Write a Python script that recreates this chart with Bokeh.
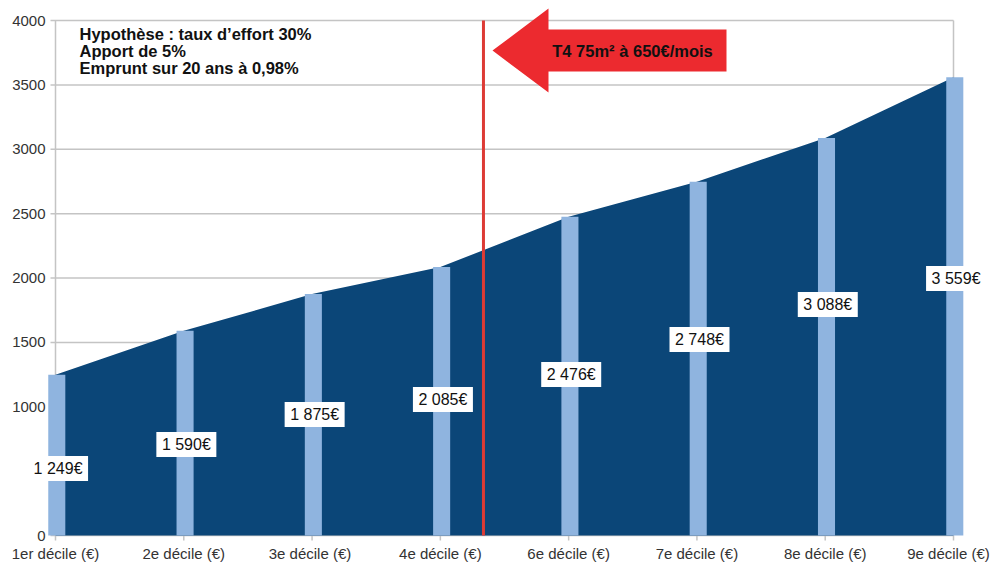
import numpy as np
from bokeh.plotting import figure
from bokeh.models import Range1d
from bokeh.embed import file_html
from bokeh.resources import INLINE
from bokeh.core.properties import value

# --- data -------------------------------------------------------------------
categories = ["1er décile (€)", "2e décile (€)", "3e décile  (€)", "4e décile (€)",
              "6e décile (€)", "7e décile (€)", "8e décile (€)", "9e décile (€)"]
budget = [1249, 1590, 1875, 2085, 2476, 2748, 3088, 3559]
label_heights = [520, 707, 940, 1056, 1250, 1522, 1794, 1996]
y_ticks = [0, 500, 1000, 1500, 2000, 2500, 3000, 3500, 4000]
y_tick_labels = ["0", "", "1000", "1500", "2000", "2500", "3000", "3500", "4000"]
notes = ["Hypothèse : taux d’effort 30%", "Apport de 5%", "Emprunt sur 20 ans à 0,98%"]
rent_label = "T4 75m² à 650€/mois"
rent_position = 3.336   # between 4e and 6e décile

value_labels = [f"{v:,}".replace(",", " ") + "€" for v in budget]
idx = np.arange(len(categories))

# --- layout -------------------------------------------------------------------
W, H = 991, 562
FRAME_L, FRAME_R, FRAME_T, FRAME_B = 0, 991, 0, 562
X_FIRST_PX, X_LAST_PX = 55, 953
Y_ZERO_PX, Y_TOP_PX = 535, 20
Y_MAX = 4000

px_per_cat = (X_LAST_PX - X_FIRST_PX) / (len(categories) - 1)
px_per_unit = (Y_ZERO_PX - Y_TOP_PX) / Y_MAX
x_start = (FRAME_L - X_FIRST_PX) / px_per_cat
x_end = (len(categories) - 1) + (FRAME_R - X_LAST_PX) / px_per_cat
y_start = (Y_ZERO_PX - FRAME_B) / px_per_unit
y_end = (Y_ZERO_PX - FRAME_T) / px_per_unit


def dx(px):
    return (px - X_FIRST_PX) / px_per_cat


def dy(py):
    return (Y_ZERO_PX - py) / px_per_unit


DARK = "#0b4678"
LIGHT = "#8fb4df"
GRID = "#c4c4c4"
LINE_RED = "#dd3b35"
ARROW_RED = "#ec2a2f"
FONT = "Liberation Sans"
AXIS_TEXT = "#333333"

p = figure(width=W, height=H, x_range=Range1d(x_start, x_end),
           y_range=Range1d(y_start, y_end),
           output_backend="svg", toolbar_location=None,
           min_border=0)
p.outline_line_color = None
p.grid.visible = False
p.axis.visible = False
p.background_fill_color = "white"
p.border_fill_color = "white"

last = len(categories) - 1
n = len(y_ticks)
m = len(categories)

# horizontal grid lines (with a short outward tick on the left)
p.segment(x0=[dx(50)] * n, y0=y_ticks, x1=[last] * n, y1=y_ticks,
          line_color=GRID, line_width=1.5)
# left axis line and right border of the plot box
p.segment(x0=[0, last], y0=[0, 0], x1=[0, last], y1=[Y_MAX, Y_MAX],
          line_color=GRID, line_width=1.5)
# category ticks below the baseline
p.segment(x0=idx, y0=[0] * m, x1=idx, y1=[dy(540)] * m,
          line_color=GRID, line_width=1.5)

# value-axis tick labels
p.text(x=[dx(45)] * n, y=y_ticks, text=y_tick_labels,
       text_align="right", text_baseline="middle",
       text_font=value(FONT), text_font_size="15px", text_color=AXIS_TEXT)
# category labels (the last one nudged so it stays inside the page)
cat_label_x = [float(i) for i in idx]
cat_label_x[-1] = dx(948)
p.text(x=cat_label_x, y=[dy(553)] * m, text=categories,
       text_align="center", text_baseline="middle",
       text_font=value(FONT), text_font_size="15px", text_color=AXIS_TEXT)

# area + bars
p.varea(x=idx, y1=np.zeros(m), y2=budget, fill_color=DARK)
p.vbar(x=idx + 0.01, width=0.133, top=budget, bottom=0,
       fill_color=LIGHT, line_color=None)

# rent threshold line
p.segment(x0=[rent_position], y0=[0], x1=[rent_position], y1=[Y_MAX],
          line_color=LINE_RED, line_width=3)

# value labels in white boxes
p.rect(x=idx + 0.02, y=label_heights, width=60, height=25,
       width_units="screen", height_units="screen",
       fill_color="white", line_color=None)
p.text(x=idx + 0.02, y=label_heights, text=value_labels,
       text_align="center", text_baseline="middle",
       text_font=value(FONT), text_font_size="16px", text_color="#111111")

# arrow pointing to the threshold
arrow_px = [(492, 50), (548, 8), (548, 29), (726, 29), (726, 71), (548, 71), (548, 92)]
p.patch(x=[dx(a) for a, _ in arrow_px], y=[dy(b) for _, b in arrow_px],
        fill_color=ARROW_RED, line_color=None)
p.text(x=[dx(632)], y=[dy(50)], text=[rent_label],
       text_align="center", text_baseline="middle",
       text_font=value(FONT), text_font_size="16.5px", text_font_style="bold",
       text_color="#111111")

# hypotheses
p.text(x=[dx(79)] * 3, y=[dy(33), dy(50), dy(67)], text=notes,
       text_align="left", text_baseline="middle",
       text_font=value(FONT), text_font_size="16.5px", text_font_style="bold",
       text_color="#111111")

open("out.html", "w").write(file_html(p, INLINE))
